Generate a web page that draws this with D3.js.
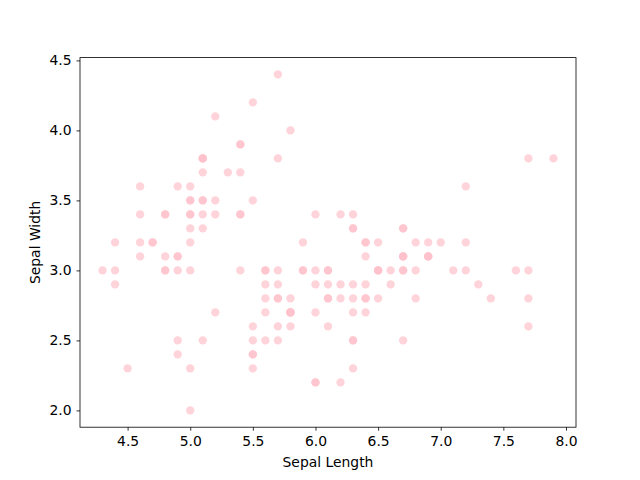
<!DOCTYPE html>
<html>
<head>
<meta charset="utf-8">
<script src="https://cdn.jsdelivr.net/npm/d3@7"></script>
<style>
  body { margin: 0; background: #fff; }
  svg { display: block; font-family: "DejaVu Sans", sans-serif; }
  .tick text { font-size: 13.9px; fill: #000; font-family: "DejaVu Sans", sans-serif; }
  .tick line { stroke: #000; stroke-width: 0.8; }
</style>
</head>
<body>
<svg id="chart"></svg>
<script>
// Iris data: sepal length / sepal width
const sepalLength = [
  5.1,4.9,4.7,4.6,5.0,5.4,4.6,5.0,4.4,4.9,5.4,4.8,4.8,4.3,5.8,5.7,5.4,5.1,5.7,5.1,
  5.4,5.1,4.6,5.1,4.8,5.0,5.0,5.2,5.2,4.7,4.8,5.4,5.2,5.5,4.9,5.0,5.5,4.9,4.4,5.1,
  5.0,4.5,4.4,5.0,5.1,4.8,5.1,4.6,5.3,5.0,
  7.0,6.4,6.9,5.5,6.5,5.7,6.3,4.9,6.6,5.2,5.0,5.9,6.0,6.1,5.6,6.7,5.6,5.8,6.2,5.6,
  5.9,6.1,6.3,6.1,6.4,6.6,6.8,6.7,6.0,5.7,5.5,5.5,5.8,6.0,5.4,6.0,6.7,6.3,5.6,5.5,
  5.5,6.1,5.8,5.0,5.6,5.7,5.7,6.2,5.1,5.7,
  6.3,5.8,7.1,6.3,6.5,7.6,4.9,7.3,6.7,7.2,6.5,6.4,6.8,5.7,5.8,6.4,6.5,7.7,7.7,6.0,
  6.9,5.6,7.7,6.3,6.7,7.2,6.2,6.1,6.4,7.2,7.4,7.9,6.4,6.3,6.1,7.7,6.3,6.4,6.0,6.9,
  6.7,6.9,5.8,6.8,6.7,6.7,6.3,6.5,6.2,5.9
];
const sepalWidth = [
  3.5,3.0,3.2,3.1,3.6,3.9,3.4,3.4,2.9,3.1,3.7,3.4,3.0,3.0,4.0,4.4,3.9,3.5,3.8,3.8,
  3.4,3.7,3.6,3.3,3.4,3.0,3.4,3.5,3.4,3.2,3.1,3.4,4.1,4.2,3.1,3.2,3.5,3.6,3.0,3.4,
  3.5,2.3,3.2,3.5,3.8,3.0,3.8,3.2,3.7,3.3,
  3.2,3.2,3.1,2.3,2.8,2.8,3.3,2.4,2.9,2.7,2.0,3.0,2.2,2.9,2.9,3.1,3.0,2.7,2.2,2.5,
  3.2,2.8,2.5,2.8,2.9,3.0,2.8,3.0,2.9,2.6,2.4,2.4,2.7,2.7,3.0,3.4,3.1,2.3,3.0,2.5,
  2.6,3.0,2.6,2.3,2.7,3.0,2.9,2.9,2.5,2.8,
  3.3,2.7,3.0,2.9,3.0,3.0,2.5,2.9,2.5,3.6,3.2,2.7,3.0,2.5,2.8,3.2,3.0,3.8,2.6,2.2,
  3.2,2.8,2.8,2.7,3.3,3.2,2.8,3.0,2.8,3.0,2.8,3.8,2.8,2.8,2.6,3.0,3.4,3.1,3.0,3.1,
  3.1,3.1,2.7,3.2,3.3,3.0,2.5,3.0,3.4,3.0
];
const xTicks = [4.5, 5.0, 5.5, 6.0, 6.5, 7.0, 7.5, 8.0];
const yTicks = [2.0, 2.5, 3.0, 3.5, 4.0, 4.5];
const xLabel = 'Sepal Length';
const yLabel = 'Sepal Width';

const w = 640, h = 480;
const padLeft = 80, padRight = 576, padTop = 57.6, padBottom = 427.2;

const svg = d3.select('#chart').attr('width', w).attr('height', h);

// 5% margins like matplotlib
const xMin = d3.min(sepalLength), xMax = d3.max(sepalLength);
const yMin = d3.min(sepalWidth), yMax = d3.max(sepalWidth);
const xPad = (xMax - xMin) * 0.05, yPad = (yMax - yMin) * 0.05;

const x = d3.scaleLinear().domain([xMin - xPad, xMax + xPad]).range([padLeft, padRight]);
const y = d3.scaleLinear().domain([yMin - yPad, yMax + yPad]).range([padBottom, padTop]);

// Points
svg.append('g')
  .selectAll('circle')
  .data(sepalLength.map((d, i) => [d, sepalWidth[i]]))
  .enter()
  .append('circle')
  .attr('cx', d => x(d[0]))
  .attr('cy', d => y(d[1]))
  .attr('r', 4.17)
  .attr('fill', 'pink')
  .attr('fill-opacity', 0.7);

// Axes
const xAxis = d3.axisBottom(x).tickValues(xTicks).tickFormat(d3.format('.1f'))
  .tickSize(3.5).tickPadding(4.9);
const yAxis = d3.axisLeft(y).tickValues(yTicks).tickFormat(d3.format('.1f'))
  .tickSize(3.5).tickPadding(4.9);

const gx = svg.append('g')
  .attr('transform', `translate(0, ${padBottom})`)
  .call(xAxis);
gx.select('.domain').remove();
gx.selectAll('text').attr('dy', '0.75em');

const gy = svg.append('g')
  .attr('transform', `translate(${padLeft}, 0)`)
  .call(yAxis);
gy.select('.domain').remove();

// Frame
svg.append('rect')
  .attr('x', padLeft).attr('y', padTop)
  .attr('width', padRight - padLeft).attr('height', padBottom - padTop)
  .attr('fill', 'none').attr('stroke', '#000').attr('stroke-width', 0.8);

// Labels
svg.append('text')
  .attr('x', (padLeft + padRight) / 2).attr('y', 467)
  .attr('text-anchor', 'middle')
  .attr('font-size', 13.9)
  .text(xLabel);

svg.append('text')
  .attr('transform', `translate(40, ${(padTop + padBottom) / 2}) rotate(-90)`)
  .attr('text-anchor', 'middle')
  .attr('font-size', 13.9)
  .text(yLabel);
</script>
</body>
</html>
